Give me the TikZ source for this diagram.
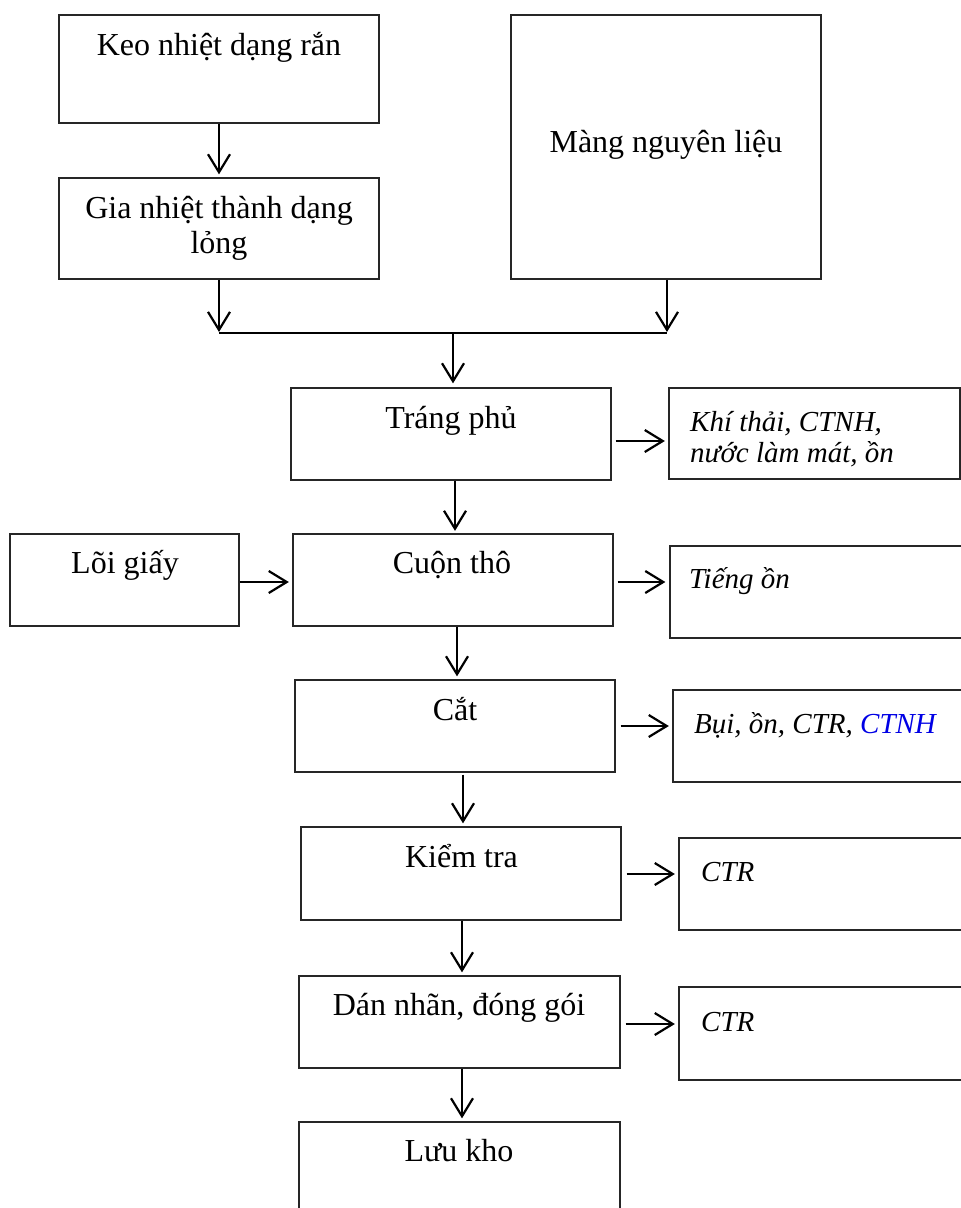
\documentclass[tikz,border=0pt]{standalone}
\usepackage{fontspec}
\setmainfont{Liberation Serif}
\usetikzlibrary{arrows.meta}

\begin{document}
\begin{tikzpicture}[x=1pt,y=-1pt,
  box/.style={draw=black!85, line width=1.3pt, rectangle, inner sep=0pt},
  txt/.style={inner sep=0pt, anchor=base, font=\fontsize{32}{35}\selectfont},
  waste/.style={inner sep=0pt, anchor=base west, font=\fontsize{29}{31}\selectfont\itshape, align=left},
  arr/.style={line width=2.2pt, -{Straight Barb[length=18pt,width=22pt,line width=2.2pt]}},
  mergeline/.style={line width=2.2pt}
]
\useasboundingbox (0,0) rectangle (961,1208);

% process boxes
\node[box, minimum width=320, minimum height=108] (keo)   at (219,69)    {};
\node[box, minimum width=320, minimum height=101] (gia)   at (219,228.5) {};
\node[box, minimum width=310, minimum height=264] (mang)  at (666,147)   {};
\node[box, minimum width=320, minimum height=92]  (trang) at (451,434)   {};
\node[box, minimum width=229, minimum height=92]  (loi)   at (124.5,580) {};
\node[box, minimum width=320, minimum height=92]  (cuon)  at (453,580)   {};
\node[box, minimum width=320, minimum height=92]  (cat)   at (455,726)   {};
\node[box, minimum width=320, minimum height=93]  (kiem)  at (461,873.5) {};
\node[box, minimum width=321, minimum height=92]  (dan)   at (459.5,1022) {};
\node[box, minimum width=321, minimum height=98]  (luu)   at (459.5,1171) {};

% waste boxes
\node[box, minimum width=291, minimum height=91] (khi)   at (814.5,433.5) {};
\node[box, minimum width=330, minimum height=92] (tieng) at (835,592)     {};
\node[box, minimum width=327, minimum height=92] (bui)   at (836.5,736)   {};
\node[box, minimum width=321, minimum height=92] (ctra)  at (839.5,884)   {};
\node[box, minimum width=321, minimum height=93] (ctrb)  at (839.5,1033.5) {};

% labels (multi-line nodes are placed by the baseline of their last line)
\node[txt] (tkeo)   at (219,55)   {Keo nhiệt dạng rắn};
\node[txt, align=center] (tgia) at (219,253) {Gia nhiệt thành dạng\\lỏng};
\node[txt] (tmang)  at (666,152)  {Màng nguyên liệu};
\node[txt] (ttrang) at (451,428)  {Tráng phủ};
\node[txt] (tloi)   at (125,573)  {Lõi giấy};
\node[txt] (tcuon)  at (452,573)  {Cuộn thô};
\node[txt] (tcat)   at (455,720)  {Cắt};
\node[txt] (tkiem)  at (461.5,867) {Kiểm tra};
\node[txt] (tdan)   at (459,1015) {Dán nhãn, đóng gói};
\node[txt] (tluu)   at (459,1161) {Lưu kho};

\node[waste] (tkhi)   at (690,462)  {Khí thải, CTNH,\\nước làm mát, ồn};
\node[waste] (ttieng) at (689,588)  {Tiếng ồn};
\node[waste] (tbui)   at (694,733)  {Bụi, ồn, CTR, \textcolor{blue!90!black}{CTNH}};
\node[waste] (tctra)  at (701,881)  {CTR};
\node[waste] (tctrb)  at (701,1031) {CTR};

% merging of the two inputs
\coordinate (m1) at (219,333);
\coordinate (m2) at (667,333);
\coordinate (mc) at (453,333);

\draw[arr, shorten >=3pt] (keo.south) -- (gia.north);
\draw[arr, shorten >=1pt] (gia.south) -- (m1);
\draw[arr, shorten >=1pt] (mang.south -| m2) -- (m2);
\draw[mergeline] (m1) -- (m2);
\draw[arr, shorten >=4pt] (mc) -- (mc |- trang.north);

% main line
\draw[arr, shorten >=2.5pt] ([xshift=4pt]trang.south) -- ([xshift=2pt]cuon.north);
\draw[arr, shorten >=3pt] ([xshift=4pt]cuon.south) -- ([xshift=2pt]cat.north);
\draw[arr, shorten >=3pt, shorten <=2pt] ([xshift=8pt]cat.south) -- ([xshift=2pt]kiem.north);
\draw[arr, shorten >=3pt] ([xshift=1pt]kiem.south) -- ([xshift=2.5pt]dan.north);
\draw[arr, shorten >=3pt] ([xshift=2.5pt]dan.south) -- ([xshift=2.5pt]luu.north);

% side inputs and outputs
\draw[arr, shorten >=3.5pt] ([yshift=-2pt]loi.east) -- ([yshift=-2pt]cuon.west);
\draw[arr, shorten <=4pt, shorten >=3.5pt] ([yshift=-7pt]trang.east) -- ([yshift=-7.5pt]khi.west);
\draw[arr, shorten <=4pt, shorten >=4pt] ([yshift=-2pt]cuon.east) -- ([yshift=10pt]tieng.west);
\draw[arr, shorten <=5pt, shorten >=3.5pt] (cat.east) -- ([yshift=10pt]bui.west);
\draw[arr, shorten <=5pt, shorten >=3.5pt] ([yshift=-0.5pt]kiem.east) -- ([yshift=10pt]ctra.west);
\draw[arr, shorten <=5pt, shorten >=3.5pt] ([yshift=-2pt]dan.east) -- ([yshift=9.5pt]ctrb.west);
\end{tikzpicture}
\end{document}
